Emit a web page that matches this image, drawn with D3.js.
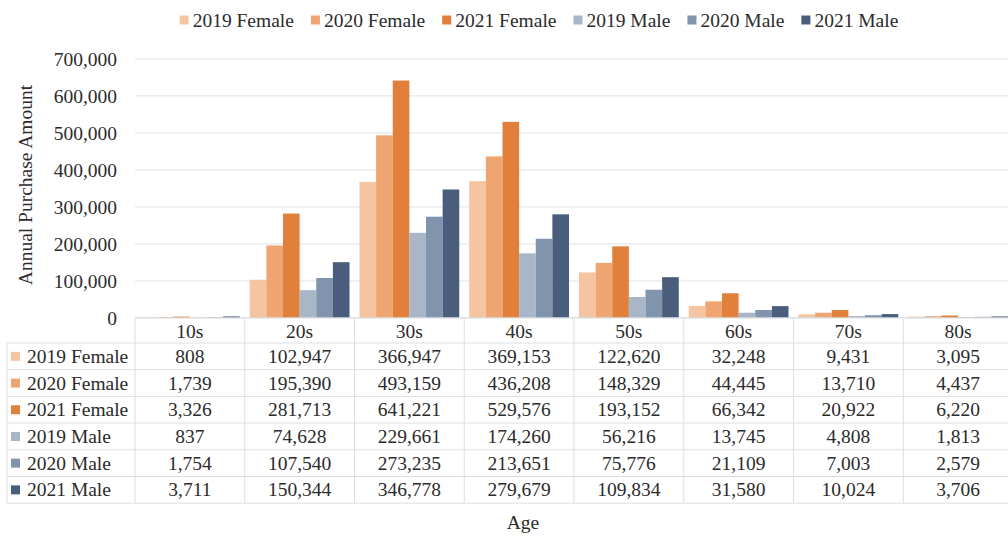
<!DOCTYPE html>
<html>
<head>
<meta charset="utf-8">
<script src="https://cdn.jsdelivr.net/npm/d3@7/dist/d3.min.js"></script>
<style>
  html, body { margin: 0; padding: 0; background: #fff; }
</style>
</head>
<body>
<svg id="chart" width="1008" height="536"></svg>
<script>
// Age groups along the x axis
const categories = ["10s", "20s", "30s", "40s", "50s", "60s", "70s", "80s"];

// Series names, in legend / table order
const seriesNames = ["2019 Female", "2020 Female", "2021 Female", "2019 Male", "2020 Male", "2021 Male"];

// Annual purchase amount per age group
const female2019 = [808, 102947, 366947, 369153, 122620, 32248, 9431, 3095];
const female2020 = [1739, 195390, 493159, 436208, 148329, 44445, 13710, 4437];
const female2021 = [3326, 281713, 641221, 529576, 193152, 66342, 20922, 6220];
const male2019   = [837, 74628, 229661, 174260, 56216, 13745, 4808, 1813];
const male2020   = [1754, 107540, 273235, 213651, 75776, 21109, 7003, 2579];
const male2021   = [3711, 150344, 346778, 279679, 109834, 31580, 10024, 3706];

// Y axis ticks
const yTicks = [0, 100000, 200000, 300000, 400000, 500000, 600000, 700000];

const seriesValues = [female2019, female2020, female2021, male2019, male2020, male2021];
const colors = ["#F5C4A0", "#EFA572", "#E0803A", "#A9B6C8", "#8094AE", "#4A5D7D"];

const svg = d3.select("#chart");
const FONT = '"Liberation Serif"';
const textColor = "#2b2b2b";
const fontSize = 19.5;

// Common text styling
function styleText(sel) {
  return sel.style("font-family", FONT)
    .style("font-size", fontSize + "px")
    .attr("fill", textColor);
}

// Plot geometry
const plotLeft = 135, plotRight = 1013;
const plotTop = 58.8, plotBottom = 317.8;

const x = d3.scaleBand().domain(categories).range([plotLeft, plotRight]).paddingInner(0).paddingOuter(0);
const xInner = d3.scaleBand().domain(seriesNames).range([5, x.bandwidth() - 5]).padding(0);
const y = d3.scaleLinear().domain([0, 700000]).range([plotBottom, plotTop]);
const color = d3.scaleOrdinal().domain(seriesNames).range(colors);
const fmt = d3.format(",");

// Gridlines
svg.append("g")
  .selectAll("line")
  .data(yTicks.filter(d => d > 0))
  .join("line")
  .attr("x1", plotLeft).attr("x2", 1008)
  .attr("y1", d => y(d)).attr("y2", d => y(d))
  .attr("stroke", "#E6E8EA").attr("stroke-width", 1.2);

// Tick labels
const yAxis = d3.axisLeft(y).tickValues(yTicks).tickFormat(fmt).tickSize(0).tickPadding(0);
const gy = svg.append("g").attr("transform", `translate(117,0)`).call(yAxis);
gy.select(".domain").remove();
gy.attr("font-family", null).attr("font-size", null);
styleText(gy.selectAll("text")).attr("dy", "0.34em");

// Bars
const groups = svg.append("g")
  .selectAll("g")
  .data(categories)
  .join("g")
  .attr("transform", d => `translate(${x(d)},0)`);

groups.selectAll("rect")
  .data((c, ci) => seriesNames.map((s, si) => ({ s, v: seriesValues[si][ci] })))
  .join("rect")
  .attr("x", d => xInner(d.s))
  .attr("width", xInner.bandwidth())
  .attr("y", d => y(d.v))
  .attr("height", d => y(0) - y(d.v))
  .attr("fill", d => color(d.s));

// Data table under the plot
const headerTop = plotBottom;
const rowTop = 343;
const rowH = 26.7;
const tableLeft = 7;
const gridColor = "#DCDFE2";
const table = svg.append("g");

// horizontal rules
table.append("line")
  .attr("x1", plotLeft).attr("x2", plotRight)
  .attr("y1", headerTop).attr("y2", headerTop)
  .attr("stroke", "#D6D9DC").attr("stroke-width", 1.2);
d3.range(seriesNames.length + 1).forEach(i => {
  table.append("line")
    .attr("x1", tableLeft).attr("x2", plotRight)
    .attr("y1", rowTop + i * rowH).attr("y2", rowTop + i * rowH)
    .attr("stroke", gridColor).attr("stroke-width", 1);
});
// vertical rules
const tableBottom = rowTop + seriesNames.length * rowH;
table.append("line")
  .attr("x1", tableLeft).attr("x2", tableLeft)
  .attr("y1", rowTop).attr("y2", tableBottom)
  .attr("stroke", gridColor);
categories.forEach(c => {
  table.append("line")
    .attr("x1", x(c)).attr("x2", x(c))
    .attr("y1", headerTop).attr("y2", tableBottom)
    .attr("stroke", gridColor);
});

// header row: categories
styleText(table.selectAll("text.cat")
  .data(categories)
  .join("text")
  .attr("class", "cat")
  .attr("x", d => x(d) + x.bandwidth() / 2)
  .attr("y", (headerTop + rowTop) / 2 + 1)
  .attr("dy", "0.34em")
  .attr("text-anchor", "middle")
  .text(d => d));

// value rows
seriesNames.forEach((s, si) => {
  const cy = rowTop + si * rowH + rowH / 2;
  table.append("rect")
    .attr("x", 11).attr("y", cy - 4.5)
    .attr("width", 9).attr("height", 9)
    .attr("fill", color(s));
  styleText(table.append("text")
    .attr("x", 27).attr("y", cy).attr("dy", "0.34em")
    .text(s));
  styleText(table.selectAll(null)
    .data(categories)
    .join("text")
    .attr("x", d => x(d) + x.bandwidth() / 2)
    .attr("y", cy).attr("dy", "0.34em")
    .attr("text-anchor", "middle")
    .text((d, ci) => fmt(seriesValues[si][ci])));
});

// Axis titles
styleText(svg.append("text")
  .attr("transform", "translate(25,185) rotate(-90)")
  .attr("text-anchor", "middle").attr("dy", "0.34em")
  .text("Annual Purchase Amount"));

styleText(svg.append("text")
  .attr("x", 523).attr("y", 522).attr("dy", "0.34em")
  .attr("text-anchor", "middle")
  .text("Age"));

// Legend
const legend = svg.append("g");
const items = legend.selectAll("g")
  .data(seriesNames)
  .join("g");
items.append("rect")
  .attr("width", 9).attr("height", 9)
  .attr("y", -4.5)
  .attr("fill", d => color(d));
styleText(items.append("text")
  .attr("x", 13).attr("dy", "0.34em")
  .text(d => d));
let cursor = 0;
const gap = 17;
items.each(function () {
  const g = d3.select(this);
  g.attr("transform", `translate(${cursor},0)`);
  cursor += 13 + g.select("text").node().getComputedTextLength() + gap;
});
const legendWidth = cursor - gap;
legend.attr("transform", `translate(${539 - legendWidth / 2},20)`);
</script>
</body>
</html>
